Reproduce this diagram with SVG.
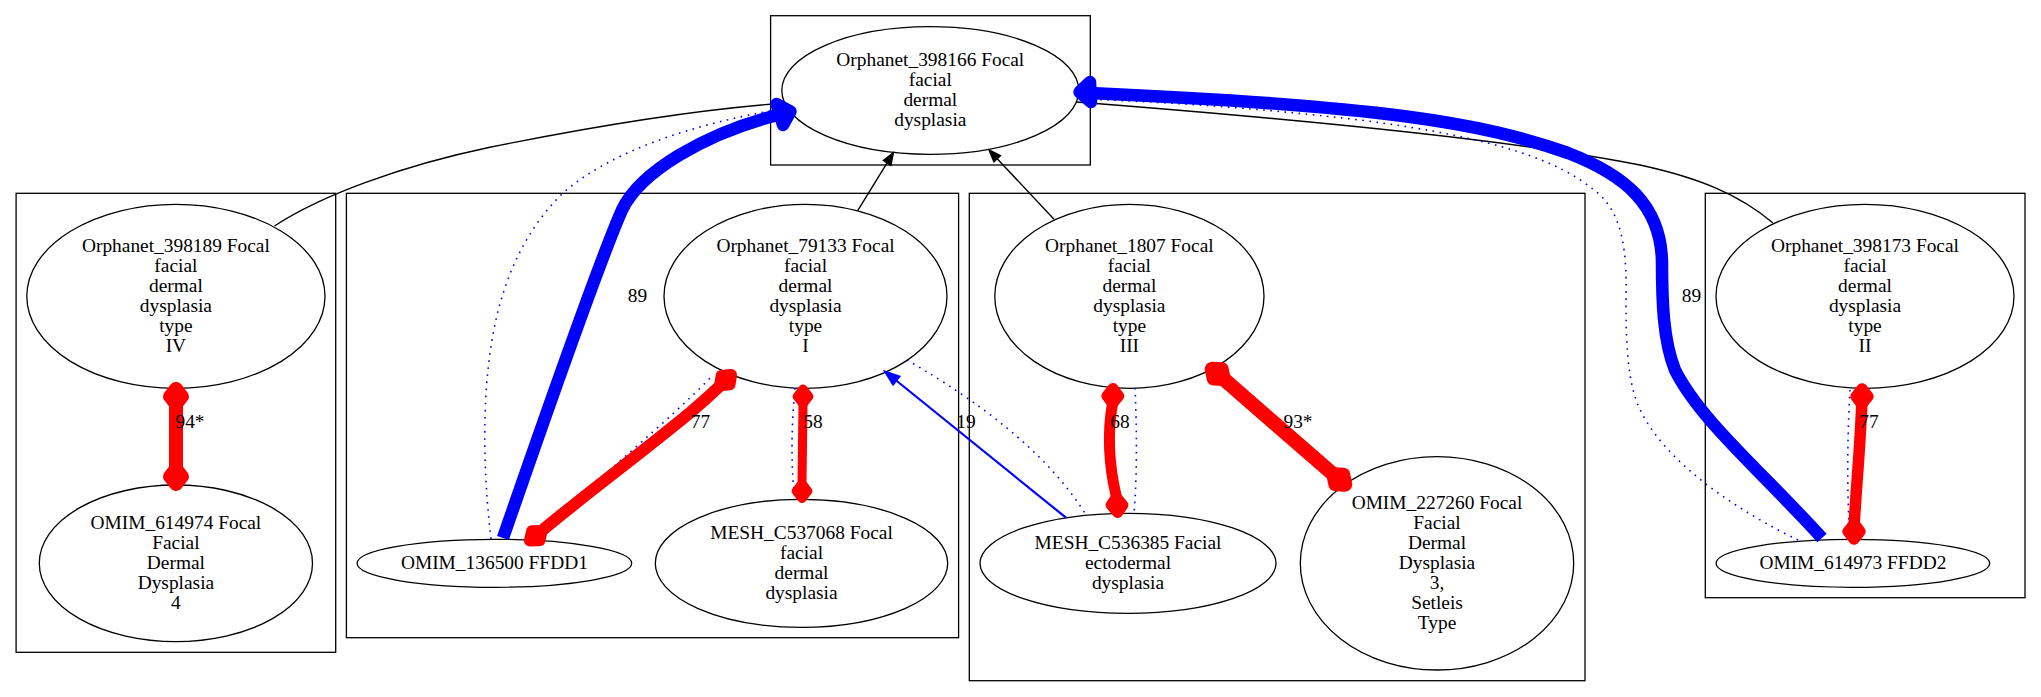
<svg xmlns="http://www.w3.org/2000/svg" width="2041" height="697" viewBox="0 0 2041 697">
<style>
.cl{fill:none;stroke:#000;stroke-width:1.3}
.nd ellipse{fill:none;stroke:#000;stroke-width:1.3}
text{font-family:"Liberation Serif","Times New Roman",serif;font-size:19.4px;text-anchor:middle;fill:#000}
.blk{fill:none;stroke:#000;stroke-width:1.4}
.ah{fill:#000;stroke:#000;stroke-width:1.4;stroke-linejoin:miter}
.dot{fill:none;stroke:#0000ff;stroke-width:1.6;stroke-dasharray:1.6 5.5}
.bt{fill:none;stroke:#0000ff;stroke-width:12.5}
.bth{fill:#0000ff;stroke:#0000ff;stroke-width:12.5;stroke-linejoin:round}
.bl{fill:none;stroke:#0000ff;stroke-width:2.2}
.blh{fill:#0000ff;stroke:#0000ff;stroke-width:2.2}
.red{fill:none;stroke:#ff0000}
.rd{fill:#ff0000;stroke:#ff0000;stroke-linejoin:round}
</style>
<rect width="2041" height="697" fill="#fff"/>
<g id="clusters">
<rect class="cl" x="770.6" y="15.7" width="319.7" height="149.3"/>
<rect class="cl" x="16.1" y="193.3" width="319.6" height="459"/>
<rect class="cl" x="346.4" y="193.3" width="612.2" height="444.4"/>
<rect class="cl" x="969.3" y="193.3" width="615.7" height="487.4"/>
<rect class="cl" x="1705.3" y="193.3" width="319.7" height="404.4"/>
</g>
<g id="n398166" class="nd"><ellipse cx="930.3" cy="90.5" rx="148.5" ry="63.8"/>
<text x="930.3" y="66">Orphanet_398166 Focal</text><text x="930.3" y="86">facial</text><text x="930.3" y="106">dermal</text><text x="930.3" y="126">dysplasia</text></g>
<g id="n398189" class="nd"><ellipse cx="175.9" cy="296.3" rx="149.1" ry="92"/>
<text x="175.9" y="251.8">Orphanet_398189 Focal</text><text x="175.9" y="271.8">facial</text><text x="175.9" y="291.8">dermal</text><text x="175.9" y="311.8">dysplasia</text><text x="175.9" y="331.8">type</text><text x="175.9" y="351.8">IV</text></g>
<g id="n79133" class="nd"><ellipse cx="805.5" cy="296.3" rx="141.5" ry="92"/>
<text x="805.5" y="251.8">Orphanet_79133 Focal</text><text x="805.5" y="271.8">facial</text><text x="805.5" y="291.8">dermal</text><text x="805.5" y="311.8">dysplasia</text><text x="805.5" y="331.8">type</text><text x="805.5" y="351.8">I</text></g>
<g id="n1807" class="nd"><ellipse cx="1129.4" cy="296.3" rx="134.6" ry="92"/>
<text x="1129.4" y="251.8">Orphanet_1807 Focal</text><text x="1129.4" y="271.8">facial</text><text x="1129.4" y="291.8">dermal</text><text x="1129.4" y="311.8">dysplasia</text><text x="1129.4" y="331.8">type</text><text x="1129.4" y="351.8">III</text></g>
<g id="n398173" class="nd"><ellipse cx="1865" cy="296.3" rx="149" ry="92"/>
<text x="1865" y="251.8">Orphanet_398173 Focal</text><text x="1865" y="271.8">facial</text><text x="1865" y="291.8">dermal</text><text x="1865" y="311.8">dysplasia</text><text x="1865" y="331.8">type</text><text x="1865" y="351.8">II</text></g>
<g id="n614974" class="nd"><ellipse cx="175.9" cy="563.3" rx="136.6" ry="78.3"/>
<text x="175.9" y="528.8">OMIM_614974 Focal</text><text x="175.9" y="548.8">Facial</text><text x="175.9" y="568.8">Dermal</text><text x="175.9" y="588.8">Dysplasia</text><text x="175.9" y="608.8">4</text></g>
<g id="n136500" class="nd"><ellipse cx="494.4" cy="563.3" rx="137.3" ry="24"/>
<text x="494.4" y="568.8">OMIM_136500 FFDD1</text></g>
<g id="nC537068" class="nd"><ellipse cx="801.5" cy="563.3" rx="146.2" ry="64"/>
<text x="801.5" y="538.8">MESH_C537068 Focal</text><text x="801.5" y="558.8">facial</text><text x="801.5" y="578.8">dermal</text><text x="801.5" y="598.8">dysplasia</text></g>
<g id="nC536385" class="nd"><ellipse cx="1128" cy="563.3" rx="148" ry="50"/>
<text x="1128" y="548.8">MESH_C536385 Facial</text><text x="1128" y="568.8">ectodermal</text><text x="1128" y="588.8">dysplasia</text></g>
<g id="n227260" class="nd"><ellipse cx="1437" cy="563.3" rx="136.7" ry="106.7"/>
<text x="1437" y="508.8">OMIM_227260 Focal</text><text x="1437" y="528.8">Facial</text><text x="1437" y="548.8">Dermal</text><text x="1437" y="568.8">Dysplasia</text><text x="1437" y="588.8">3,</text><text x="1437" y="608.8">Setleis</text><text x="1437" y="628.8">Type</text></g>
<g id="n614973" class="nd"><ellipse cx="1852.9" cy="563.3" rx="136.8" ry="24"/>
<text x="1852.9" y="568.8">OMIM_614973 FFDD2</text></g>
<g id="connectors">
<path class="blk" d="M274.5,226 C320,196 400,166 491,147 C580,129 690,110 784.7,103"/>
<path class="blk" d="M1773,223 C1740,195 1700,178 1640,165 C1560,149 1400,127 1076.4,102"/>
<path class="blk" d="M857.7,210.7 L887.1,162.9"/>
<polygon class="ah" points="893.4,152.7 890.9,165.3 883.3,160.5"/>
<path class="blk" d="M1054,219.3 L997.2,158.7"/>
<polygon class="ah" points="989,150 1000.5,155.6 993.9,161.8"/>
<path class="dot" d="M491,539 C483,470 482,400 492,340 C502,280 525,230 563,193 C610,152 690,124 787,108"/>
<path class="dot" d="M1798,540 C1740,512 1662,462 1638,405 C1627,378 1626,340 1626,300 C1627,255 1624,212 1594,190 C1560,162 1500,138 1360,120 C1250,107 1150,101 1077.5,99"/>
<path class="dot" d="M907,360 C950,385 1040,440 1086,515"/>
<path class="dot" d="M536,538 C595,480 668,422 713,375"/>
<path class="dot" d="M795,388 C791,430 791,470 795,499"/>
<path class="dot" d="M1135,388 C1137,430 1137,480 1134,513"/>
<path class="dot" d="M1850,390 C1847,440 1847,500 1850,539"/>
<path class="bt" d="M503,538 C530,460 600,260 622,210 C640,172 705,133 779.75,114.5"/>
<polygon class="bth" points="790.5,111.5 783,125 776.5,104"/>
<path class="bt" d="M1822,538 C1760,470 1700,420 1675,370 C1663,340 1662,300 1662,262 C1661,205 1625,175 1568,153 C1480,122 1380,106 1090.5,93"/>
<polygon class="bth" points="1079.5,92 1090,82 1091,102"/>
<path class="bl" d="M1066,517.7 L896.2,380.5"/>
<polygon class="blh" points="885.3,371.7 899.3,376.6 893.1,384.4"/>
<path class="red" stroke-width="14" d="M176,404 L176,469"/>
<polygon class="rd" stroke-width="14" points="176,389 181.8,396.5 176,404 170.2,396.5"/>
<polygon class="rd" stroke-width="14" points="176,484 181.8,476.5 176,469 170.2,476.5"/>
<path class="red" stroke-width="12" d="M541.6,530.9 C600,482 680,425 720.2,385.4"/>
<polygon class="rd" stroke-width="12" points="731,375 729.6,384.4 720.2,385.4 721.6,376"/>
<polygon class="rd" stroke-width="12" points="530,540.5 539.5,540.2 541.6,530.9 532.1,531.2"/>
<path class="red" stroke-width="9" d="M803,404 L802,483.5"/>
<polygon class="rd" stroke-width="9" points="803,389 808.8,396.5 803,404 797.2,396.5"/>
<polygon class="rd" stroke-width="9" points="802,498.5 807.8,491 802,483.5 796.2,491"/>
<path class="red" stroke-width="11" d="M1112.5,403.5 C1106,440 1110,470 1116.5,497.5"/>
<polygon class="rd" stroke-width="11" points="1113,388.5 1118.6,396 1112.5,403.5 1107,396"/>
<polygon class="rd" stroke-width="11" points="1117.5,512.5 1122.8,505 1116.5,497.5 1111.2,505"/>
<path class="red" stroke-width="14.5" d="M1223.4,378.8 L1333.6,474.6"/>
<polygon class="rd" stroke-width="14.5" points="1212,369 1221.5,369.5 1223.4,378.8 1213.9,378.3"/>
<polygon class="rd" stroke-width="14.5" points="1345,484.4 1343.1,475.1 1333.6,474.6 1335.5,483.9"/>
<path class="red" stroke-width="11.5" d="M1861.8,404 C1860,450 1856,490 1854.2,524"/>
<polygon class="rd" stroke-width="11.5" points="1862,389 1867.8,396.5 1861.8,404 1856.2,396.5"/>
<polygon class="rd" stroke-width="11.5" points="1854,539 1859.8,531.5 1854.2,524 1848.2,531.5"/>
<text x="637.5" y="301.5">89</text>
<text x="1691.4" y="301.5">89</text>
<text x="190" y="428">94*</text>
<text x="700.5" y="428">77</text>
<text x="813" y="428">58</text>
<text x="966" y="428">19</text>
<text x="1120" y="428">68</text>
<text x="1298" y="428">93*</text>
<text x="1869" y="428">77</text>
</g>
</svg>
